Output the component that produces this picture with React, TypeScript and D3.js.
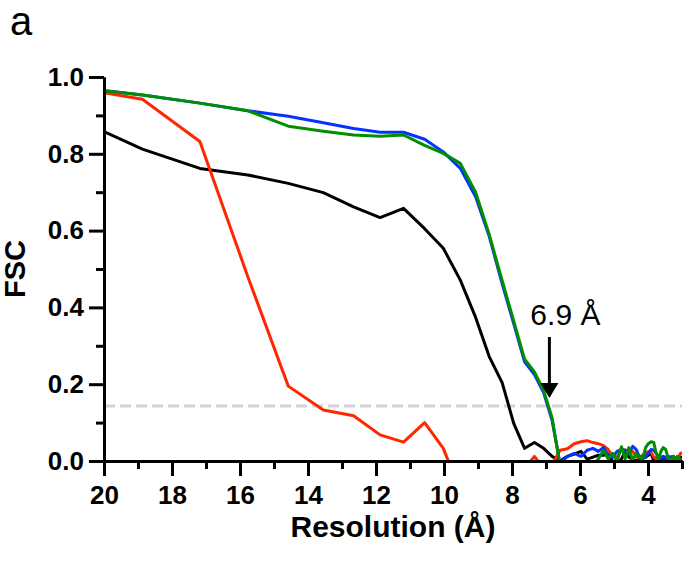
import React, { useEffect, useRef } from "react";
import * as d3 from "d3";

// Resolution grid (Å)
const resolution = [
  20.92, 18.87, 17.18, 15.77, 14.58, 13.55, 12.66, 11.88, 11.19, 10.57, 10.02, 9.52, 9.07, 8.67,
  8.29, 7.95, 7.63, 7.34, 7.07, 6.82, 6.59, 6.37, 6.17, 5.97, 5.79, 5.62, 5.46, 5.31, 5.17, 5.04,
  4.91, 4.78, 4.67, 4.56, 4.45, 4.35, 4.26, 4.16, 4.07, 3.99, 3.91, 3.83, 3.76, 3.68, 3.62, 3.55,
  3.48, 3.42, 3.36, 3.3, 3.25, 3.19, 3.14, 3.09, 3.04, 3.0,
];

const fscBlack = [
  0.895, 0.812, 0.762, 0.745, 0.723, 0.699, 0.662, 0.634, 0.658, 0.605, 0.554, 0.471, 0.374, 0.272,
  0.204, 0.098, 0.033, 0.048, 0.033, 0.012, 0.0, 0.012, 0.018, 0.025, 0.005, 0.01, 0.015, 0.015,
  0.018, 0.0, -0.005, 0.005, 0.025, 0.01, 0.005, 0.0, 0.005, 0.008, 0.01, 0.015, 0.02, 0.0, 0.008,
  0.012, 0.005, 0.008, 0.0, 0.005, 0.01, 0.005, 0.01, 0.005, 0.008, 0.012, 0.01, 0.008,
];

const fscRed = [
  0.973, 0.942, 0.832, 0.48, 0.195, 0.133, 0.118, 0.068, 0.049, 0.1, 0.033, -0.08, -0.1, -0.05,
  -0.06, -0.04, -0.02, 0.012, -0.02, -0.01, 0.028, 0.032, 0.045, 0.05, 0.053, 0.048, 0.045, 0.04,
  0.03, 0.012, 0.01, 0.03, 0.028, 0.028, 0.025, 0.012, 0.008, 0.015, 0.02, 0.025, 0.022, 0.01,
  0.005, 0.008, 0.01, 0.012, 0.01, 0.008, 0.01, 0.012, 0.01, 0.008, 0.01, 0.012, 0.02, 0.022,
];

const fscBlue = [
  0.975, 0.953, 0.932, 0.912, 0.898, 0.881, 0.866, 0.856, 0.856, 0.838, 0.805, 0.762, 0.688, 0.585,
  0.462, 0.358, 0.258, 0.225, 0.178, 0.105, -0.005, 0.012, 0.02, 0.012, 0.028, 0.033, 0.025, 0.035,
  0.015, 0.01, 0.025, 0.03, 0.028, 0.02, 0.038, 0.03, 0.012, 0.005, 0.01, 0.02, 0.03, 0.028, 0.02,
  0.01, 0.005, 0.012, 0.008, 0.0, 0.01, 0.005, 0.012, 0.003, 0.008, 0.0, 0.005, 0.0,
];

const fscGreen = [
  0.973, 0.953, 0.932, 0.912, 0.872, 0.859, 0.849, 0.846, 0.849, 0.822, 0.801, 0.775, 0.7, 0.59,
  0.47, 0.365, 0.265, 0.232, 0.184, 0.112, -0.01, -0.03, -0.02, -0.03, -0.02, -0.01, 0.005, 0.028,
  0.005, 0.02, 0.0, 0.037, 0.005, 0.035, 0.0, 0.02, 0.01, 0.005, 0.035, 0.045, 0.05, 0.048, 0.02,
  0.005, 0.025, 0.035, 0.03, 0.012, 0.0, 0.005, 0.012, 0.003, 0.012, 0.008, 0.0, 0.005,
];

const seriesColors = ["#000000", "#ff2600", "#0433ff", "#008f00"];

const xTicksMajor = [20, 18, 16, 14, 12, 10, 8, 6, 4];
const xTicksMinor = [19, 17, 15, 13, 11, 9, 7, 5, 3];
const yTicksMajor = [0, 0.2, 0.4, 0.6, 0.8, 1.0];
const yTicksMinor = [0.1, 0.3, 0.5, 0.7, 0.9];

const threshold = 0.143;
const cutoffRes = 6.9;
const cutoffLabel = "6.9 Å";

const FONT = "'Liberation Sans', Arial, Helvetica, sans-serif";

const FscChart = () => {
  const ref = useRef<SVGSVGElement>(null);

  useEffect(() => {
    const width = 684;
    const height = 565;
    const marginLeft = 104;
    const marginRight = 2;
    const marginTop = 77;
    const marginBottom = 104;

    const x = d3
      .scaleLinear()
      .domain([20, 3])
      .range([marginLeft, width - marginRight]);
    const y = d3
      .scaleLinear()
      .domain([0, 1])
      .range([height - marginBottom, marginTop]);

    const svg = d3
      .select(ref.current)
      .attr("width", width)
      .attr("height", height)
      .attr("viewBox", [0, 0, width, height].join(" "));

    svg.selectAll("*").remove();

    svg
      .append("defs")
      .append("clipPath")
      .attr("id", "plot-clip")
      .append("rect")
      .attr("x", marginLeft)
      .attr("y", 0)
      .attr("width", width - marginRight - marginLeft)
      .attr("height", height - marginBottom);

    // threshold line
    svg
      .append("line")
      .attr("x1", marginLeft)
      .attr("x2", width - marginRight)
      .attr("y1", y(threshold))
      .attr("y2", y(threshold))
      .attr("stroke", "#d3d3d3")
      .attr("stroke-width", 3)
      .attr("stroke-dasharray", "11,5");

    // curves
    const line = d3
      .line<number>()
      .x((_, i) => x(resolution[i]))
      .y((d) => y(d));

    const plot = svg.append("g").attr("clip-path", "url(#plot-clip)");
    [fscBlack, fscRed, fscBlue, fscGreen].forEach((s, i) => {
      plot
        .append("path")
        .datum(s)
        .attr("fill", "none")
        .attr("stroke", seriesColors[i])
        .attr("stroke-width", 3)
        .attr("stroke-linejoin", "round")
        .attr("d", line);
    });

    const styleAxis = (g: any) => {
      g.select(".domain").attr("stroke-width", 3);
      g.selectAll(".tick line").attr("stroke-width", 3);
      g.selectAll(".tick text")
        .attr("font-family", FONT)
        .attr("font-weight", "bold")
        .attr("font-size", 26)
        .attr("fill", "#000");
    };

    // minor ticks
    svg
      .append("g")
      .attr("transform", `translate(${marginLeft},0)`)
      .call(d3.axisLeft(y).tickValues(yTicksMinor).tickSize(8).tickFormat(() => "").tickSizeOuter(0))
      .call(styleAxis);
    svg
      .append("g")
      .attr("transform", `translate(0,${height - marginBottom})`)
      .call(d3.axisBottom(x).tickValues(xTicksMinor).tickSize(8).tickFormat(() => "").tickSizeOuter(0))
      .call(styleAxis);

    // major ticks + labels
    svg
      .append("g")
      .attr("transform", `translate(${marginLeft},0)`)
      .call(
        d3
          .axisLeft(y)
          .tickValues(yTicksMajor)
          .tickSize(15)
          .tickPadding(5)
          .tickFormat(d3.format(".1f") as any)
          .tickSizeOuter(0)
      )
      .call(styleAxis);
    svg
      .append("g")
      .attr("transform", `translate(0,${height - marginBottom})`)
      .call(
        d3
          .axisBottom(x)
          .tickValues(xTicksMajor)
          .tickSize(15)
          .tickPadding(9.5)
          .tickFormat(d3.format("d") as any)
          .tickSizeOuter(0)
      )
      .call(styleAxis);

    // axis titles
    svg
      .append("text")
      .attr("x", (marginLeft + width - marginRight) / 2)
      .attr("y", 537)
      .attr("text-anchor", "middle")
      .attr("font-family", FONT)
      .attr("font-weight", "bold")
      .attr("font-size", 30)
      .text("Resolution (Å)");

    svg
      .append("text")
      .attr("transform", `translate(25,${(marginTop + height - marginBottom) / 2}) rotate(-90)`)
      .attr("text-anchor", "middle")
      .attr("font-family", FONT)
      .attr("font-weight", "bold")
      .attr("font-size", 29)
      .text("FSC");

    // panel letter
    svg
      .append("text")
      .attr("x", 10)
      .attr("y", 35)
      .attr("font-family", FONT)
      .attr("font-size", 40)
      .text("a");

    // resolution annotation
    const ax = x(cutoffRes);
    svg
      .append("text")
      .attr("x", ax + 16)
      .attr("y", 325)
      .attr("text-anchor", "middle")
      .attr("font-family", FONT)
      .attr("font-size", 30)
      .text(cutoffLabel);
    svg
      .append("line")
      .attr("x1", ax)
      .attr("x2", ax)
      .attr("y1", 337)
      .attr("y2", 385)
      .attr("stroke", "#000")
      .attr("stroke-width", 3);
    svg
      .append("path")
      .attr("d", `M${ax - 9},383L${ax + 9},383L${ax},398Z`)
      .attr("fill", "#000");
  }, []);

  return <svg ref={ref} style={{ position: "absolute", left: 0, top: 0 }}></svg>;
};

export default function App() {
  return <FscChart />;
}
